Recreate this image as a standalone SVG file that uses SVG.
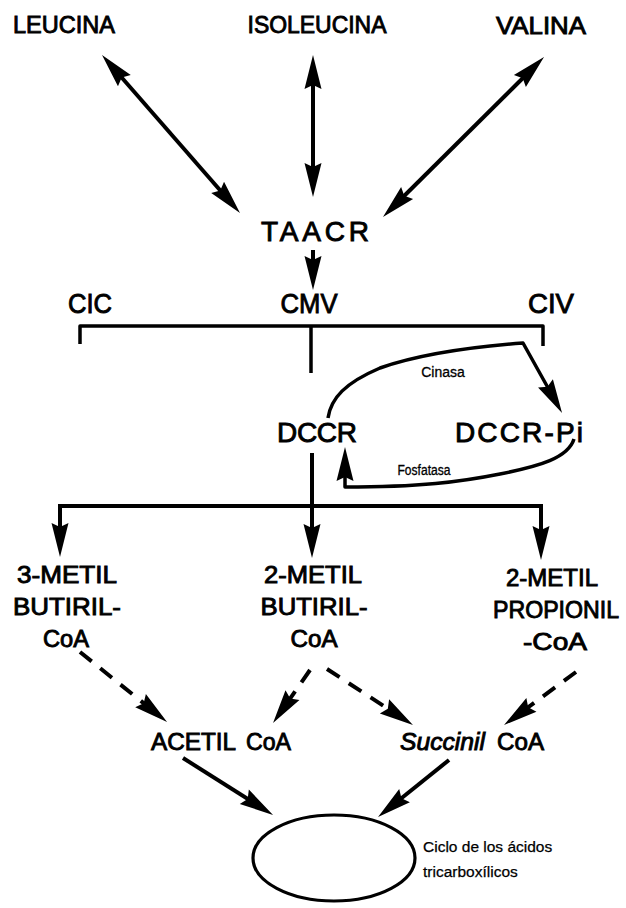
<svg xmlns="http://www.w3.org/2000/svg" width="626" height="908" viewBox="0 0 626 908">
<style>
  text { font-family: "Liberation Sans", Arial, sans-serif; fill: #000; stroke: #000; stroke-width: 0.9; }
  .big { font-size: 28px; }
  .top { font-size: 24px; }
  .mid { font-size: 24px; }
  .small { font-size: 14px; stroke-width: 0.3; }
  .ciclo { font-size: 15.5px; stroke-width: 0.25; }
  .ln { fill: none; stroke: #000; stroke-width: 4; stroke-linecap: butt; stroke-linejoin: miter; }
  .thin { fill: none; stroke: #000; stroke-width: 3.5; stroke-linejoin: round; }
  .dash { fill: none; stroke: #000; stroke-width: 4; stroke-dasharray: 15 11; }
</style>
<defs>
  <marker id="ah" markerUnits="userSpaceOnUse" orient="auto-start-reverse" refX="0" refY="0" markerWidth="44" markerHeight="22" viewBox="-24 -11 44 22" overflow="visible">
    <path d="M12,0 L-22,-8.5 L-18,0 L-22,8.5 Z" fill="#000"/>
  </marker>
</defs>

<g id="connectors">
  <line class="ln" x1="109.9" y1="64" x2="232.1" y2="204" marker-start="url(#ah)" marker-end="url(#ah)"/>
  <line class="ln" x1="313" y1="67" x2="313" y2="185" marker-start="url(#ah)" marker-end="url(#ah)"/>
  <line class="ln" x1="535.5" y1="65.5" x2="391.5" y2="208.5" marker-start="url(#ah)" marker-end="url(#ah)"/>
  <line class="ln" x1="313" y1="250" x2="313" y2="278" marker-end="url(#ah)"/>
  <path class="thin" d="M80,344 L80,326 L543,326 L543,346"/>
  <line class="thin" x1="311" y1="326" x2="311" y2="373"/>
  <path class="thin" d="M328,418 C331,398 345,383 380,368 C420,354 470,347 523,343 L556.2,402.5" marker-end="url(#ah)"/>
  <path class="thin" d="M574,439 C568,458 540,466 500,474 C460,482 420,487 345,487 L345,459" marker-end="url(#ah)"/>
  <line class="ln" x1="312" y1="453" x2="312" y2="546" marker-end="url(#ah)"/>
  <path class="ln" d="M60,545 L60,506 L541,506 L541,548" marker-start="url(#ah)" marker-end="url(#ah)"/>
  <line class="dash" x1="80" y1="652" x2="157.7" y2="714.5" marker-end="url(#ah)"/>
  <line class="dash" x1="310" y1="670" x2="279.9" y2="713.2" marker-end="url(#ah)"/>
  <line class="dash" x1="327" y1="669" x2="402.9" y2="718.5" marker-end="url(#ah)"/>
  <line class="dash" x1="576" y1="672" x2="513.7" y2="717.9" marker-end="url(#ah)"/>
  <line class="ln" x1="183" y1="758" x2="262.9" y2="808.5" marker-end="url(#ah)"/>
  <line class="ln" x1="449" y1="760" x2="387.4" y2="809.5" marker-end="url(#ah)"/>
</g>

<g id="leucina"><text class="top" x="64" y="33" text-anchor="middle" textLength="102" lengthAdjust="spacingAndGlyphs">LEUCINA</text></g>
<g id="isoleucina"><text class="top" x="317" y="33" text-anchor="middle" textLength="139" lengthAdjust="spacingAndGlyphs">ISOLEUCINA</text></g>
<g id="valina"><text class="top" x="541" y="34" text-anchor="middle" textLength="90" lengthAdjust="spacingAndGlyphs">VALINA</text></g>
<g id="taacr"><text class="big" x="315" y="241" text-anchor="middle" textLength="108" lengthAdjust="spacing">TAACR</text></g>
<g id="cic"><text class="big" x="90" y="313" text-anchor="middle" textLength="44" lengthAdjust="spacingAndGlyphs">CIC</text></g>
<g id="cmv"><text class="big" x="309" y="313" text-anchor="middle" textLength="57" lengthAdjust="spacingAndGlyphs">CMV</text></g>
<g id="civ"><text class="big" x="551" y="313" text-anchor="middle" textLength="46" lengthAdjust="spacingAndGlyphs">CIV</text></g>
<g id="dccr"><text class="big" x="317" y="442" text-anchor="middle" textLength="80" lengthAdjust="spacing">DCCR</text></g>
<g id="dccr-pi"><text class="big" x="519" y="442" text-anchor="middle" textLength="128" lengthAdjust="spacing">DCCR-Pi</text></g>
<g id="cinasa"><text class="small" x="443" y="377" text-anchor="middle">Cinasa</text></g>
<g id="fosfatasa"><text class="small" x="424" y="475" text-anchor="middle" textLength="53" lengthAdjust="spacingAndGlyphs">Fosfatasa</text></g>
<g id="metil-butiril-3">
  <text class="mid" x="67" y="583" text-anchor="middle" textLength="100" lengthAdjust="spacingAndGlyphs">3-METIL</text>
  <text class="mid" x="67" y="615" text-anchor="middle" textLength="108" lengthAdjust="spacingAndGlyphs">BUTIRIL-</text>
  <text class="mid" x="66" y="647" text-anchor="middle" textLength="46" lengthAdjust="spacingAndGlyphs">CoA</text>
</g>
<g id="metil-butiril-2">
  <text class="mid" x="313" y="583" text-anchor="middle" textLength="98" lengthAdjust="spacingAndGlyphs">2-METIL</text>
  <text class="mid" x="314" y="615" text-anchor="middle" textLength="107" lengthAdjust="spacingAndGlyphs">BUTIRIL-</text>
  <text class="mid" x="314" y="647" text-anchor="middle" textLength="47" lengthAdjust="spacingAndGlyphs">CoA</text>
</g>
<g id="metil-propionil">
  <text class="mid" x="552" y="586" text-anchor="middle" textLength="92" lengthAdjust="spacingAndGlyphs">2-METIL</text>
  <text class="mid" x="556" y="618" text-anchor="middle" textLength="126" lengthAdjust="spacingAndGlyphs">PROPIONIL</text>
  <text class="mid" x="555" y="650" text-anchor="middle" textLength="64" lengthAdjust="spacingAndGlyphs">-CoA</text>
</g>
<g id="acetil-coa">
  <text class="mid" x="151" y="750" textLength="85" lengthAdjust="spacingAndGlyphs">ACETIL</text>
  <text class="mid" x="246" y="750" textLength="45" lengthAdjust="spacingAndGlyphs">CoA</text>
</g>
<g id="succinil-coa">
  <text class="mid" x="400" y="750" textLength="85" lengthAdjust="spacingAndGlyphs" font-style="italic">Succinil</text>
  <text class="mid" x="497" y="750" textLength="47" lengthAdjust="spacingAndGlyphs">CoA</text>
</g>
<g id="ciclo">
  <ellipse cx="334" cy="858" rx="81" ry="43" fill="none" stroke="#000" stroke-width="3.2"/>
  <text class="ciclo" x="423" y="852">Ciclo de los ácidos</text>
  <text class="ciclo" x="423" y="877">tricarboxílicos</text>
</g>
</svg>
